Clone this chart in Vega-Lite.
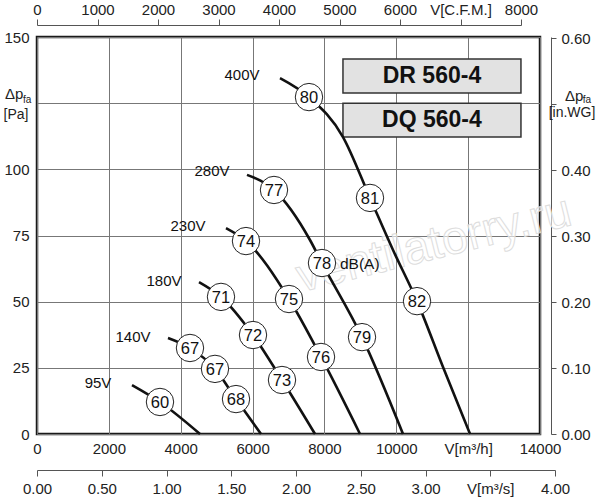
{
  "$schema": "https://vega.github.io/schema/vega-lite/v6.json",
  "width": 503,
  "height": 397,
  "autosize": "none",
  "padding": {"left": 37, "top": 37, "right": 60, "bottom": 66},
  "background": "white",
  "config": {
    "font": "Liberation Sans",
    "view": {"stroke": "#1a1a1a", "strokeWidth": 2.5},
    "axis": {
      "labelFont": "Liberation Sans",
      "labelFontSize": 15,
      "labelColor": "#222",
      "domainColor": "#555",
      "tickColor": "#555",
      "title": null,
      "labelFlush": false,
      "labelOverlap": false
    }
  },
  "datasets": {
    "curves": [
      {"v": "400V", "x": 6763, "y": 134.5},
      {"v": "400V", "x": 7570, "y": 127.3},
      {"v": "400V", "x": 8517, "y": 112.2},
      {"v": "400V", "x": 9268, "y": 89.2},
      {"v": "400V", "x": 9909, "y": 69.5},
      {"v": "400V", "x": 10577, "y": 50.2},
      {"v": "400V", "x": 11300, "y": 25.3},
      {"v": "400V", "x": 12052, "y": 0},
      {"v": "280V", "x": 5845, "y": 97.9},
      {"v": "280V", "x": 6596, "y": 92.2},
      {"v": "280V", "x": 7598, "y": 73.3},
      {"v": "280V", "x": 7932, "y": 64.6},
      {"v": "280V", "x": 9046, "y": 36.6},
      {"v": "280V", "x": 10187, "y": 0},
      {"v": "230V", "x": 5260, "y": 77.8},
      {"v": "230V", "x": 5817, "y": 72.9},
      {"v": "230V", "x": 7014, "y": 51.0},
      {"v": "230V", "x": 7905, "y": 29.1},
      {"v": "230V", "x": 8990, "y": 0},
      {"v": "180V", "x": 4509, "y": 57.4},
      {"v": "180V", "x": 5121, "y": 51.8},
      {"v": "180V", "x": 6012, "y": 37.4},
      {"v": "180V", "x": 6819, "y": 20.4},
      {"v": "180V", "x": 7738, "y": 0},
      {"v": "140V", "x": 3646, "y": 36.3},
      {"v": "140V", "x": 4258, "y": 32.5},
      {"v": "140V", "x": 4954, "y": 24.6},
      {"v": "140V", "x": 5539, "y": 13.2},
      {"v": "140V", "x": 6235, "y": 0},
      {"v": "95V", "x": 2644, "y": 18.5},
      {"v": "95V", "x": 3423, "y": 12.1},
      {"v": "95V", "x": 4537, "y": 0}
    ],
    "circles": [
      {"x": 7570, "y": 127.3, "d": "80"},
      {"x": 9268, "y": 89.2, "d": "81"},
      {"x": 10577, "y": 50.2, "d": "82"},
      {"x": 6596, "y": 92.2, "d": "77"},
      {"x": 7932, "y": 64.6, "d": "78"},
      {"x": 9046, "y": 36.6, "d": "79"},
      {"x": 5817, "y": 72.9, "d": "74"},
      {"x": 7014, "y": 51.0, "d": "75"},
      {"x": 7905, "y": 29.1, "d": "76"},
      {"x": 5121, "y": 51.8, "d": "71"},
      {"x": 6012, "y": 37.4, "d": "72"},
      {"x": 6819, "y": 20.4, "d": "73"},
      {"x": 4258, "y": 32.5, "d": "67"},
      {"x": 4954, "y": 24.6, "d": "67"},
      {"x": 5539, "y": 13.2, "d": "68"},
      {"x": 3423, "y": 12.1, "d": "60"}
    ],
    "volts": [
      {"x": 5706, "y": 135.6, "t": "400V"},
      {"x": 4871, "y": 99.4, "t": "280V"},
      {"x": 4203, "y": 78.6, "t": "230V"},
      {"x": 3535, "y": 57.8, "t": "180V"},
      {"x": 2672, "y": 36.6, "t": "140V"},
      {"x": 1698, "y": 19.3, "t": "95V"}
    ],
    "boxes": [
      {"x": 8516, "x2": 13470, "y": 141.7, "y2": 128.8},
      {"x": 8516, "x2": 13470, "y": 125.0, "y2": 112.2}
    ],
    "boxtext": [
      {"x": 10993, "y": 135.2, "t": "DR 560-4"},
      {"x": 10993, "y": 118.6, "t": "DQ 560-4"}
    ],
    "unit": [{"x": 8432, "y": 64.2, "t": "dB(A)"}],
    "mark": [{"x": 11050, "y": 71.5, "t": "ventilatorry.ru"}],
    "big": [
      {"x": -891, "y": 126.6, "t": "Δp"},
      {"x": 14696, "y": 125.8, "t": "Δp"}
    ],
    "sub": [
      {"x": -390, "y": 125.1, "t": "fa"},
      {"x": 15190, "y": 125.1, "t": "fa"}
    ],
    "units": [
      {"x": -584, "y": 119.0, "t": "[Pa]"},
      {"x": 14890, "y": 119.6, "t": "[in.WG]"}
    ],
    "dummy": [{"c": 0, "s": 0, "w": 0}]
  },
  "layer": [
    {
      "encoding": {
        "x": {
          "field": "x",
          "type": "quantitative",
          "scale": {"domain": [0, 14000], "nice": false, "zero": false},
          "axis": {
            "orient": "bottom",
            "values": [0, 2000, 4000, 6000, 8000, 10000, 12000, 14000],
            "format": "d",
            "labelExpr": "datum.value == 12000 ? 'V[m³/h]' : datum.label",
            "domain": false,
            "ticks": false,
            "labelPadding": 7,
            "grid": true,
            "gridColor": "#777",
            "gridWidth": 1
          }
        },
        "y": {
          "field": "y",
          "type": "quantitative",
          "scale": {"domain": [0, 150], "nice": false},
          "axis": {
            "orient": "left",
            "values": [0, 25, 50, 75, 100, 125, 150],
            "labelExpr": "datum.value == 125 ? '' : datum.label",
            "domain": false,
            "ticks": false,
            "labelPadding": 8,
            "grid": true,
            "gridColor": "#777",
            "gridWidth": 1
          }
        }
      },
      "layer": [
        {
          "data": {"name": "mark"},
          "mark": {"type": "text", "angle": -14, "fontSize": 47, "align": "center", "baseline": "middle", "fill": "#ffffff", "fillOpacity": 0.6, "stroke": "#dddddd", "strokeWidth": 1},
          "encoding": {"text": {"field": "t"}}
        },
        {
          "data": {"name": "boxes"},
          "mark": {"type": "rect", "fill": "#e2e2e2", "stroke": "#333", "strokeWidth": 1.5},
          "encoding": {"x2": {"field": "x2"}, "y2": {"field": "y2"}}
        },
        {
          "data": {"name": "boxtext"},
          "mark": {"type": "text", "fontSize": 23, "fontWeight": "bold", "align": "center", "baseline": "middle", "color": "#111"},
          "encoding": {"text": {"field": "t"}}
        },
        {
          "data": {"name": "curves"},
          "mark": {"type": "line", "interpolate": "monotone", "color": "#111", "strokeWidth": 2.6},
          "encoding": {"detail": {"field": "v"}}
        },
        {
          "data": {"name": "circles"},
          "mark": {"type": "point", "shape": "circle", "filled": true, "fill": "white", "stroke": "#222", "strokeWidth": 1, "size": 750, "opacity": 1},
          "encoding": {}
        },
        {
          "data": {"name": "circles"},
          "mark": {"type": "text", "fontSize": 16.5, "align": "center", "baseline": "middle", "color": "#111", "dy": 1},
          "encoding": {"text": {"field": "d"}}
        },
        {
          "data": {"name": "volts"},
          "mark": {"type": "text", "fontSize": 15, "align": "center", "baseline": "middle", "color": "#111"},
          "encoding": {"text": {"field": "t"}}
        },
        {
          "data": {"name": "unit"},
          "mark": {"type": "text", "fontSize": 15.5, "align": "left", "baseline": "middle", "color": "#111"},
          "encoding": {"text": {"field": "t"}}
        },
        {
          "data": {"name": "big"},
          "mark": {"type": "text", "fontSize": 15, "align": "left", "baseline": "alphabetic", "color": "#222"},
          "encoding": {"text": {"field": "t"}}
        },
        {
          "data": {"name": "sub"},
          "mark": {"type": "text", "fontSize": 10, "align": "left", "baseline": "alphabetic", "color": "#222"},
          "encoding": {"text": {"field": "t"}}
        },
        {
          "data": {"name": "units"},
          "mark": {"type": "text", "fontSize": 14, "align": "center", "baseline": "alphabetic", "color": "#222"},
          "encoding": {"text": {"field": "t"}}
        }
      ]
    },
    {
      "data": {"name": "dummy"},
      "mark": {"type": "point", "opacity": 0},
      "encoding": {
        "x": {
          "field": "c",
          "type": "quantitative",
          "scale": {"domain": [0, 8000], "range": [0, 484], "nice": false},
          "axis": {
            "orient": "top",
            "values": [0, 1000, 2000, 3000, 4000, 5000, 6000, 7000, 8000],
            "format": "d",
            "labelExpr": "datum.value == 7000 ? 'V[C.F.M.]' : datum.label",
            "offset": 12,
            "tickSize": 6,
            "labelPadding": 2,
            "grid": false
          }
        }
      }
    },
    {
      "data": {"name": "dummy"},
      "mark": {"type": "point", "opacity": 0},
      "encoding": {
        "x": {
          "field": "s",
          "type": "quantitative",
          "scale": {"domain": [0, 4], "range": [0, 518], "nice": false},
          "axis": {
            "orient": "bottom",
            "values": [0, 0.5, 1, 1.5, 2, 2.5, 3, 3.5, 4],
            "format": ".2f",
            "labelExpr": "datum.value == 3.5 ? 'V[m³/s]' : datum.label",
            "offset": 36,
            "tickSize": 6,
            "labelPadding": 5,
            "grid": false
          }
        }
      }
    },
    {
      "data": {"name": "dummy"},
      "mark": {"type": "point", "opacity": 0},
      "encoding": {
        "y": {
          "field": "w",
          "type": "quantitative",
          "scale": {"domain": [0, 0.6022], "nice": false},
          "axis": {
            "orient": "right",
            "values": [0, 0.1, 0.2, 0.3, 0.4, 0.5, 0.6],
            "format": ".2f",
            "labelExpr": "datum.value == 0.5 ? '' : datum.label",
            "offset": 11,
            "tickSize": 5,
            "labelPadding": 5,
            "grid": false
          }
        }
      }
    }
  ],
  "resolve": {"scale": {"x": "independent", "y": "independent"}}
}
